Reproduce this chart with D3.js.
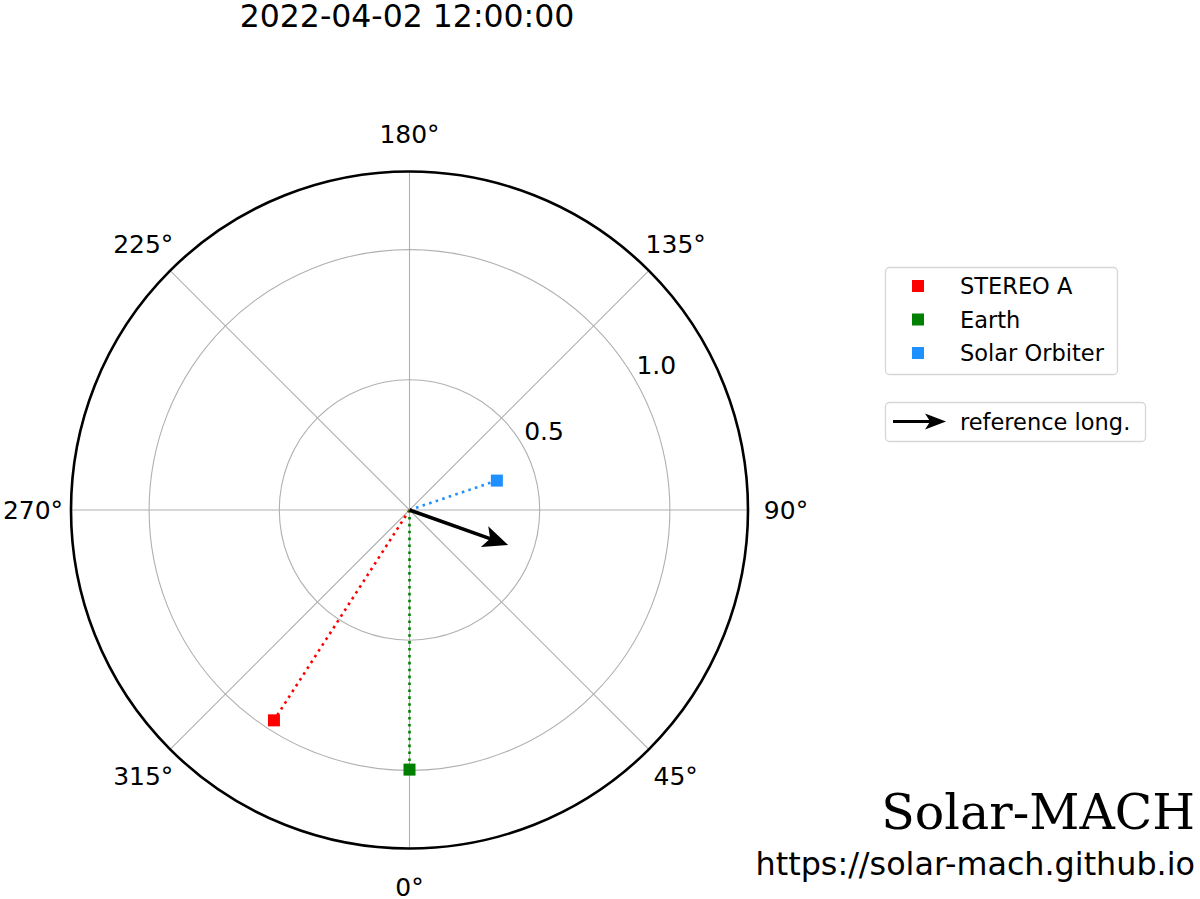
<!DOCTYPE html>
<html>
<head>
    <meta charset="utf-8">
    <title>Solar-MACH</title>
    <script src="https://d3js.org/d3.v7.min.js"></script>
    <style>
        body { margin: 0; background: #fff; }
        svg { display: block; font-family: "DejaVu Sans", sans-serif; }
    </style>
</head>
<body>
    <svg id="chart"></svg>

    <script>
        // data
        const bodyNames = ["STEREO A", "Earth", "Solar Orbiter"];
        const bodyColors = ["#ff0000", "#008000", "#1e90ff"];
        const bodyRadius = [0.961, 0.997, 0.354];      // AU
        const bodyLongitude = [-32.8, 0.0, 108.6];      // deg
        const refLongitude = 70.4;
        const refArrowLength = 0.402;
        const thetaTicks = [0, 45, 90, 135, 180, 225, 270, 315];
        const rTicks = [0.5, 1.0];
        const rMax = 1.3;
        const titleText = "2022-04-02 12:00:00";

        // chart dimensions
        const width = 1200;
        const height = 899;
        const cx = 409.5, cy = 510;
        const outerR = 338.5;

        const svg = d3.select("#chart")
            .attr("width", width)
            .attr("height", height);

        // scales
        const rScale = d3.scaleLinear().domain([0, rMax]).range([0, outerR]);
        const aScale = d3.scaleLinear().domain([0, 360]).range([0, 2 * Math.PI]);

        // theta counter-clockwise, zero at bottom
        const px = (r, t) => cx + r * Math.sin(aScale(t));
        const py = (r, t) => cy + r * Math.cos(aScale(t));

        const g = svg.append("g");

        // grid circles
        g.selectAll(".rgrid")
            .data(rTicks)
            .enter()
            .append("circle")
            .attr("cx", cx)
            .attr("cy", cy)
            .attr("r", d => rScale(d))
            .attr("fill", "none")
            .attr("stroke", "#b0b0b0")
            .attr("stroke-width", 1.1);

        // theta grid lines
        g.selectAll(".tgrid")
            .data(thetaTicks)
            .enter()
            .append("line")
            .attr("x1", cx)
            .attr("y1", cy)
            .attr("x2", d => px(outerR, d))
            .attr("y2", d => py(outerR, d))
            .attr("stroke", "#b0b0b0")
            .attr("stroke-width", 1.1);

        // outer spine
        g.append("circle")
            .attr("cx", cx)
            .attr("cy", cy)
            .attr("r", outerR)
            .attr("fill", "none")
            .attr("stroke", "#000")
            .attr("stroke-width", 2.6);

        // theta labels
        g.selectAll(".tlabel")
            .data(thetaTicks)
            .enter()
            .append("text")
            .attr("x", d => px(outerR + 38, d))
            .attr("y", d => py(outerR + 38, d))
            .attr("dy", "0.36em")
            .attr("text-anchor", "middle")
            .attr("font-size", 25)
            .text(d => d + "°");

        // r labels
        g.selectAll(".rlabel")
            .data(rTicks)
            .enter()
            .append("text")
            .attr("x", d => px(rScale(d + 0.1), 120.5))
            .attr("y", d => py(rScale(d + 0.1), 120.5))
            .attr("dy", "0.36em")
            .attr("text-anchor", "middle")
            .attr("font-size", 25)
            .text(d => d.toFixed(1));

        const bodies = bodyNames.map((name, i) => ({
            name, color: bodyColors[i], r: bodyRadius[i], lon: bodyLongitude[i]
        }));

        // dotted lines to bodies
        g.selectAll(".bline")
            .data(bodies)
            .enter()
            .append("line")
            .attr("x1", cx)
            .attr("y1", cy)
            .attr("x2", d => px(rScale(d.r), d.lon))
            .attr("y2", d => py(rScale(d.r), d.lon))
            .attr("stroke", d => d.color)
            .attr("stroke-width", 2.6)
            .attr("stroke-dasharray", "2.6 4.3");

        // body markers
        const ms = 12;
        g.selectAll(".bmark")
            .data(bodies)
            .enter()
            .append("rect")
            .attr("x", d => px(rScale(d.r), d.lon) - ms / 2)
            .attr("y", d => py(rScale(d.r), d.lon) - ms / 2)
            .attr("width", ms)
            .attr("height", ms)
            .attr("fill", d => d.color);

        // reference arrow
        function arrowPath(x0, y0, x1, y1, headLen, headW, shaftW) {
            const ang = Math.atan2(y1 - y0, x1 - x0);
            const ux = Math.cos(ang), uy = Math.sin(ang);
            const nx = -uy, ny = ux;
            const bx = x1 - ux * headLen, by = y1 - uy * headLen;
            const notchX = bx + ux * headLen * 0.2, notchY = by + uy * headLen * 0.2;
            const p = d3.path();
            p.moveTo(x0 + nx * shaftW / 2, y0 + ny * shaftW / 2);
            p.lineTo(notchX + nx * shaftW / 2, notchY + ny * shaftW / 2);
            p.lineTo(bx + nx * headW / 2, by + ny * headW / 2);
            p.lineTo(x1, y1);
            p.lineTo(bx - nx * headW / 2, by - ny * headW / 2);
            p.lineTo(notchX - nx * shaftW / 2, notchY - ny * shaftW / 2);
            p.lineTo(x0 - nx * shaftW / 2, y0 - ny * shaftW / 2);
            p.closePath();
            return p.toString();
        }

        g.append("path")
            .attr("d", arrowPath(cx, cy,
                px(rScale(refArrowLength), refLongitude),
                py(rScale(refArrowLength), refLongitude), 25, 22, 3.6))
            .attr("fill", "#000");

        // title
        svg.append("text")
            .attr("x", 407)
            .attr("y", 27)
            .attr("text-anchor", "middle")
            .attr("font-size", 31.5)
            .text(titleText);

        // legend for bodies
        const lg = svg.append("g");
        lg.append("rect")
            .attr("x", 885.5)
            .attr("y", 267.5)
            .attr("width", 232)
            .attr("height", 107)
            .attr("rx", 4)
            .attr("fill", "#fff")
            .attr("stroke", "#d6d6d6")
            .attr("stroke-width", 1.3);

        const legendRow = d3.scaleLinear().domain([0, 2]).range([286, 353]);

        lg.selectAll(".lmark")
            .data(bodies)
            .enter()
            .append("rect")
            .attr("x", 912)
            .attr("y", (d, i) => legendRow(i) - 6)
            .attr("width", 12)
            .attr("height", 12)
            .attr("fill", d => d.color);

        lg.selectAll(".ltext")
            .data(bodies)
            .enter()
            .append("text")
            .attr("x", 960)
            .attr("y", (d, i) => legendRow(i))
            .attr("dy", "0.36em")
            .attr("font-size", 22.5)
            .text(d => d.name);

        // legend for reference arrow
        lg.append("rect")
            .attr("x", 885.5)
            .attr("y", 402.5)
            .attr("width", 260)
            .attr("height", 39)
            .attr("rx", 4)
            .attr("fill", "#fff")
            .attr("stroke", "#d6d6d6")
            .attr("stroke-width", 1.3);

        lg.append("path")
            .attr("d", arrowPath(893, 421.5, 946, 421.5, 21, 16, 3.2))
            .attr("fill", "#000");

        lg.append("text")
            .attr("x", 960)
            .attr("y", 421.5)
            .attr("dy", "0.36em")
            .attr("font-size", 22.5)
            .text("reference long.");

        // branding
        svg.append("text")
            .attr("x", 1195)
            .attr("y", 829)
            .attr("text-anchor", "end")
            .attr("font-family", "DejaVu Serif, serif")
            .attr("font-size", 49)
            .text("Solar-MACH");

        svg.append("text")
            .attr("x", 1195)
            .attr("y", 875)
            .attr("text-anchor", "end")
            .attr("font-size", 31.8)
            .text("https://solar-mach.github.io");
    </script>
</body>
</html>
